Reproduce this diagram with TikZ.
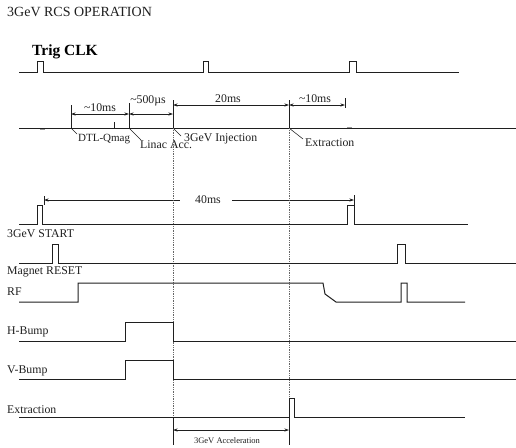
\documentclass[tikz,border=0pt]{standalone}
\usepackage{fontspec}
\setmainfont{Liberation Serif}
\usetikzlibrary{arrows.meta}
\begin{document}
\begin{tikzpicture}[x=1pt,y=-1pt,
  sig/.style={line width=1pt, black!88, line join=miter},
  tickline/.style={line width=0.75pt, black!88},
  guide/.style={line width=0.75pt, black!60, densely dotted},
  leader/.style={line width=0.55pt, black!88},
  dimarr/.style={line width=0.65pt, black!88, {Stealth[length=4.5pt,width=3pt]}-{Stealth[length=4.5pt,width=3pt]}},
  dimleft/.style={line width=0.65pt, black!88, {Stealth[length=4.5pt,width=3pt]}-},
  dimright/.style={line width=0.65pt, black!88, -{Stealth[length=4.5pt,width=3pt]}},
  lab/.style={inner sep=0pt, font=\fontsize{11.8}{14}\selectfont, text=black!88},
  small/.style={inner sep=0pt, font=\fontsize{8.5}{10}\selectfont, text=black!88}
]
\useasboundingbox (0,0) rectangle (516,447);

% titles
\node[inner sep=0pt, anchor=base west, font=\fontsize{14}{16}\selectfont, text=black!88] (title) at (7,16.7) {3GeV RCS OPERATION};
\node[inner sep=0pt, anchor=base west, font=\fontsize{15.5}{17}\selectfont\bfseries] (trig) at (32,55) {Trig CLK};

% Trig CLK
\draw[sig] (19,72) -- (37,72) -- (37,61) -- (43,61) -- (43,72) -- (203,72) -- (203,61) -- (208,61) -- (208,72) -- (349,72) -- (349,61) -- (356,61) -- (356,72) -- (459,72);

% timing line
\draw[sig] (19,128) -- (516,128);
\draw[line width=0.7pt, black!40] (40,129.5) -- (45,129.5);
\draw[line width=0.7pt, black!40] (347,127) -- (352,127);
\draw[tickline] (114,122) -- (114,128);

% markers
\coordinate (mDTL) at (71,128);
\coordinate (mLin) at (129,128);
\coordinate (mInj) at (173,128);
\coordinate (mExt) at (289,128);
\draw[tickline] (71,105) -- (mDTL);
\draw[tickline] (129,103) -- (mLin);
\draw[tickline] (173,100) -- (mInj);
\draw[tickline] (289,100) -- (mExt);
\draw[tickline] (345,98) -- (345,108);

% marker labels
\node[lab, anchor=base west, font=\fontsize{11}{13}\selectfont] (lDTL) at (78,141) {DTL-Qmag};
\node[lab, anchor=base west] (lLin) at (140,148) {Linac Acc.};
\node[lab, anchor=base west] (lInj) at (184,141) {3GeV Injection};
\node[lab, anchor=base west] (lExt) at (305,146) {Extraction};
\draw[leader] (mDTL) -- (77,134);
\draw[leader] (mLin) -- (141,140);
\draw[leader] (mInj) -- (181,136);
\draw[leader] (mExt) -- (303,139);

% dimension arrows
\draw[dimarr] (71,114) -- (129,114);
\draw[dimarr] (129,114) -- (173,114);
\draw[dimarr] (173,105) -- (289,105);
\draw[dimarr] (289,105) -- (345,105);
\node[lab, anchor=base] (d1) at (100,111) {\textasciitilde10ms};
\node[lab, anchor=base] (d2) at (148,103) {\textasciitilde500µs};
\node[lab, anchor=base] (d3) at (228,102) {20ms};
\node[lab, anchor=base] (d4) at (315,102) {\textasciitilde10ms};

% 40ms
\draw[dimleft] (44,200) -- (180,200);
\draw[dimright] (232,200) -- (354,200);
\draw[tickline] (44,196) -- (44,205);
\draw[tickline] (354,195) -- (354,205);
\node[lab, anchor=base] (d5) at (208,203) {40ms};

% guides
\draw[guide] (mInj) -- (173,417);
\draw[guide] (mExt) -- (289,398);
\draw[tickline] (173,417) -- (173,445);
\draw[tickline] (289,417) -- (289,445);

% signals
\node[lab, anchor=base west] (sStart) at (7,237) {3GeV START};
\draw[sig] (19,224) -- (37,224) -- (37,205) -- (42,205) -- (42,224) -- (347,224) -- (347,205) -- (354,205) -- (354,224) -- (468,224);

\node[lab, anchor=base west] (sReset) at (7,274) {Magnet RESET};
\draw[sig] (19,263) -- (52,263) -- (52,244) -- (58,244) -- (58,263) -- (397,263) -- (397,244) -- (405,244) -- (405,263) -- (516,263);

\node[lab, anchor=base west] (sRF) at (7,295) {RF};
\draw[sig] (19,302) -- (78,302) -- (78,283) -- (323,283) -- (325,294) -- (336,302) -- (401,302) -- (401,283) -- (407,283) -- (407,302) -- (465,302);

\node[lab, anchor=base west] (sH) at (7,334) {H-Bump};
\draw[sig] (19,341) -- (125,341) -- (125,322) -- (173,322) -- (173,341) -- (516,341);

\node[lab, anchor=base west] (sV) at (7,373) {V-Bump};
\draw[sig] (19,379) -- (125,379) -- (125,360) -- (173,360) -- (173,379) -- (516,379);

\node[lab, anchor=base west] (sExt) at (7,413) {Extraction};
\draw[sig] (19,417) -- (289,417) -- (289,398) -- (294,398) -- (294,417) -- (465,417);

% acceleration
\draw[dimarr] (173,430) -- (289,430);
\node[small, anchor=base] (acc) at (227,443) {3GeV Acceleration};
\end{tikzpicture}
\end{document}
